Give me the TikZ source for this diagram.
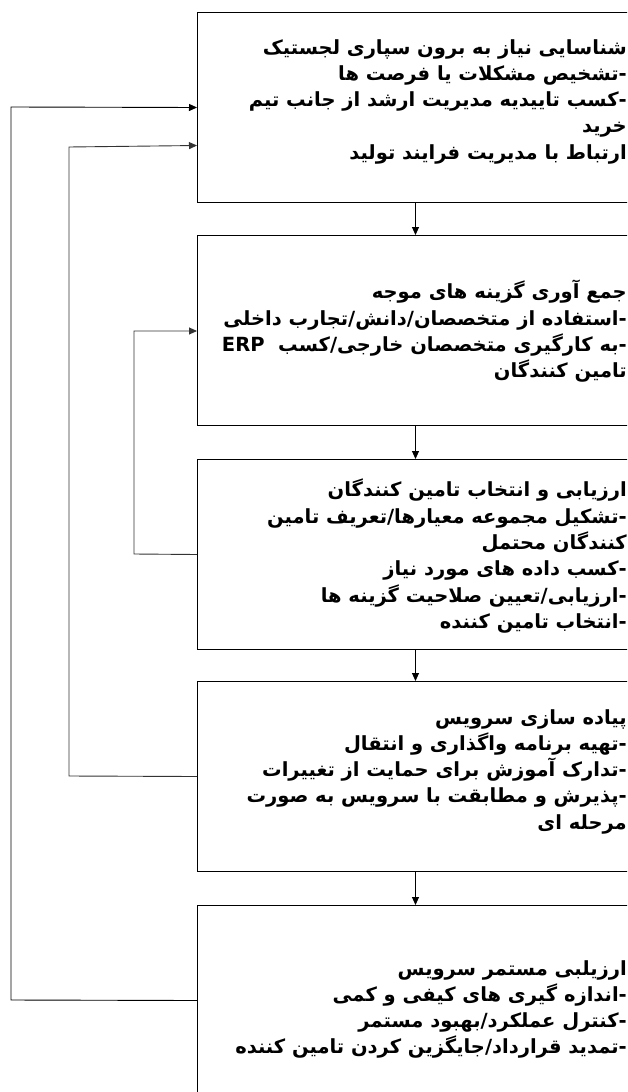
\documentclass[tikz,border=0pt]{standalone}
\usepackage{fontspec}
\TeXXeTstate=1
\newfontfamily\fa[Script=Arabic]{DejaVu Sans}
\usetikzlibrary{arrows.meta}
\begin{document}
\begin{tikzpicture}[x=1pt,y=-1pt,
  box/.style={draw, line width=1pt, minimum width=436pt, minimum height=190pt, anchor=north west, inner sep=0pt},
  txt/.style={anchor=north east, align=right, font=\fa\bfseries\fontsize{19.5}{26.3}\selectfont, inner sep=0pt},
  arr/.style={-{Triangle[length=8pt,width=7pt]}, line width=0.9pt},
  fb/.style={-{Triangle[length=8pt,width=7pt]}, line width=0.9pt, draw=black!80}]
\useasboundingbox (0,0) rectangle (627,1092);
\clip (0,0) rectangle (627,1092);
\node[box] (b1) at (197,12) {};
\node[box] (b2) at (197,235) {};
\node[box] (b3) at (197,459) {};
\node[box] (b4) at (197,681) {};
\node[box] (b5) at (197,905) {};

\node[txt] (t1) at (627,39) {\beginR شناسایی نیاز به برون سپاری لجستیک\endR\\
\beginR -تشخیص مشکلات یا فرصت ها\endR\\
\beginR -کسب تاییدیه مدیریت ارشد از جانب تیم\endR\\
\beginR خرید\endR\\
\beginR ارتباط با مدیریت فرایند تولید\endR};

\node[txt] (t2) at (627,280) {\beginR جمع آوری گزینه های موجه\endR\\
\beginR -استفاده از متخصصان/دانش/تجارب داخلی\endR\\
\beginR -به کارگیری متخصصان خارجی/کسب \ \beginL ERP\endL\endR\\
\beginR تامین کنندگان\endR};

\node[txt] (t3) at (627,479) {\beginR ارزیابی و انتخاب تامین کنندگان\endR\\
\beginR -تشکیل مجموعه معیارها/تعریف تامین\endR\\
\beginR کنندگان محتمل\endR\\
\beginR -کسب داده های مورد نیاز\endR\\
\beginR -ارزیابی/تعیین صلاحیت گزینه ها\endR\\
\beginR -انتخاب تامین کننده\endR};

\node[txt] (t4) at (627,709) {\beginR پیاده سازی سرویس\endR\\
\beginR -تهیه برنامه واگذاری و انتقال\endR\\
\beginR -تدارک آموزش برای حمایت از تغییرات\endR\\
\beginR -پذیرش و مطابقت با سرویس به صورت\endR\\
\beginR مرحله ای\endR};

\node[txt] (t5) at (627,960) {\beginR ارزیلبی مستمر سرویس\endR\\
\beginR -اندازه گیری های کیفی و کمی\endR\\
\beginR -کنترل عملکرد/بهبود مستمر\endR\\
\beginR -تمدید قرارداد/جایگزین کردن تامین کننده\endR};

\draw[arr] (b1.south) -- (b2.north);
\draw[arr] (b2.south) -- (b3.north);
\draw[arr] (b3.south) -- (b4.north);
\draw[arr] (b4.south) -- (b5.north);

\draw[fb] (b3.west) -- (134,554) -- (134,331) -- (b2.west |- 0,331);
\draw[fb] (b4.west) -- (69,776) -- (69,147) -- ([yshift=-38pt]b1.west);
\draw[arr] (b5.west) -- (11,1000) -- (11,107) -- (b1.west);
\end{tikzpicture}
\end{document}
